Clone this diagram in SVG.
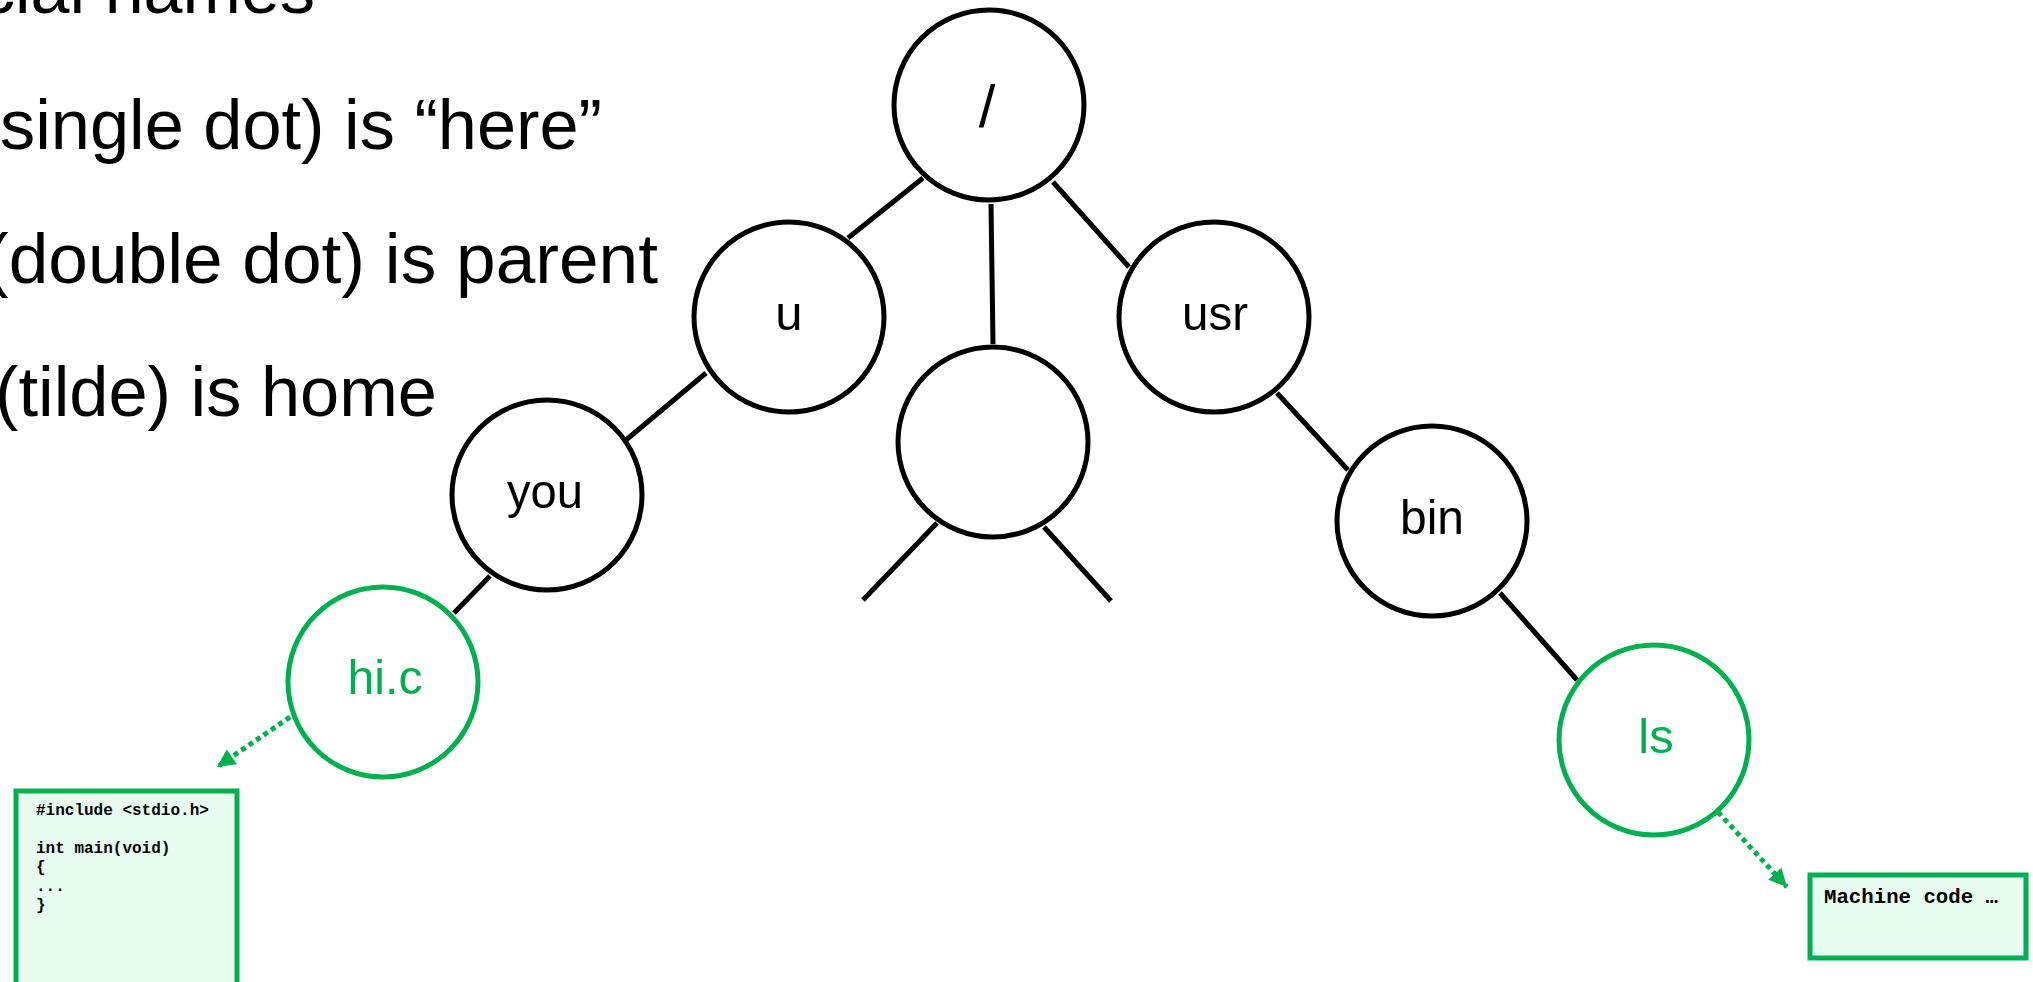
<svg xmlns="http://www.w3.org/2000/svg" width="2033" height="982" viewBox="0 0 2033 982">
<style>
.bul{font-family:"Liberation Sans",Arial,sans-serif;font-size:70px;fill:#000}
.node{fill:#fff;stroke:#000;stroke-width:5}
.gnode{fill:#fff;stroke:#00b050;stroke-width:5}
.lbl{font-family:"Liberation Sans",Arial,sans-serif;font-size:49px;fill:#000;text-anchor:middle}
.glbl{font-family:"Liberation Sans",Arial,sans-serif;font-size:49px;fill:#00b050;text-anchor:middle}
.edge{stroke:#000;stroke-width:5;fill:none}
.dot{stroke:#00b050;stroke-width:5;fill:none;stroke-dasharray:5 4}
.box{fill:#e8fcef;stroke:#00b050;stroke-width:5}
.code{font-family:"Liberation Mono","Courier New",monospace;font-weight:bold;fill:#000}
</style>
<defs>
<marker id="ga" viewBox="0 0 10 10" refX="10" refY="5" markerWidth="20" markerHeight="18" markerUnits="userSpaceOnUse" orient="auto">
<path d="M0,0 L10,5 L0,10 z" fill="#00b050"/>
</marker>
</defs>
<g id="bullets">
<text class="bul" x="-20" y="13" textLength="335" lengthAdjust="spacingAndGlyphs">cial names</text>
<text class="bul" x="0" y="149" textLength="602" lengthAdjust="spacingAndGlyphs">single dot) is “here”</text>
<text class="bul" x="-15" y="283" textLength="673" lengthAdjust="spacingAndGlyphs">(double dot) is parent</text>
<text class="bul" x="-5" y="416" textLength="442" lengthAdjust="spacingAndGlyphs">(tilde) is home</text>
</g>
<g id="connectors">
<line class="edge" x1="923" y1="178" x2="848" y2="238"/>
<line class="edge" x1="991" y1="204" x2="993" y2="344"/>
<line class="edge" x1="1053" y1="182" x2="1129" y2="267"/>
<line class="edge" x1="706" y1="373" x2="626" y2="440"/>
<line class="edge" x1="1277" y1="393" x2="1348" y2="470"/>
<line class="edge" x1="490" y1="576" x2="454" y2="613"/>
<line class="edge" x1="937" y1="523" x2="863" y2="600"/>
<line class="edge" x1="1044" y1="527" x2="1111" y2="601"/>
<line class="edge" x1="1500" y1="593" x2="1577" y2="680"/>
<line class="dot" x1="290" y1="717" x2="217" y2="767" marker-end="url(#ga)"/>
<line class="dot" x1="1718" y1="812" x2="1787" y2="887" marker-end="url(#ga)"/>
</g>
<g id="node-root"><circle class="node" cx="989" cy="105" r="95"/><text class="lbl" x="987" y="127" style="font-size:60px">/</text></g>
<g id="node-u"><circle class="node" cx="789" cy="317" r="95"/><text class="lbl" x="789" y="330">u</text></g>
<g id="node-mid"><circle class="node" cx="993" cy="442" r="95"/></g>
<g id="node-usr"><circle class="node" cx="1214" cy="317" r="95"/><text class="lbl" x="1215" y="330" textLength="66" lengthAdjust="spacingAndGlyphs">usr</text></g>
<g id="node-you"><circle class="node" cx="547" cy="495" r="95"/><text class="lbl" x="545" y="508" textLength="76" lengthAdjust="spacingAndGlyphs">you</text></g>
<g id="node-bin"><circle class="node" cx="1432" cy="521" r="95"/><text class="lbl" x="1432" y="534" textLength="64" lengthAdjust="spacingAndGlyphs">bin</text></g>
<g id="node-hic"><circle class="gnode" cx="383" cy="682" r="95"/><text class="glbl" x="385" y="694" textLength="75" lengthAdjust="spacingAndGlyphs">hi.c</text></g>
<g id="node-ls"><circle class="gnode" cx="1654" cy="740" r="95"/><text class="glbl" x="1656" y="753">ls</text></g>
<g id="box-src">
<rect class="box" x="16" y="791" width="221" height="200"/>
<text class="code" font-size="16" x="36" y="815">#include &lt;stdio.h&gt;</text>
<text class="code" font-size="16" x="36" y="853">int main(void)</text>
<text class="code" font-size="16" x="36" y="872">{</text>
<text class="code" font-size="16" x="36" y="891">...</text>
<text class="code" font-size="16" x="36" y="910">}</text>
</g>
<g id="box-bin">
<rect class="box" x="1810" y="875" width="216" height="83"/>
<text class="code" font-size="20" x="1824" y="903" textLength="174" lengthAdjust="spacingAndGlyphs">Machine code …</text>
</g>
</svg>
